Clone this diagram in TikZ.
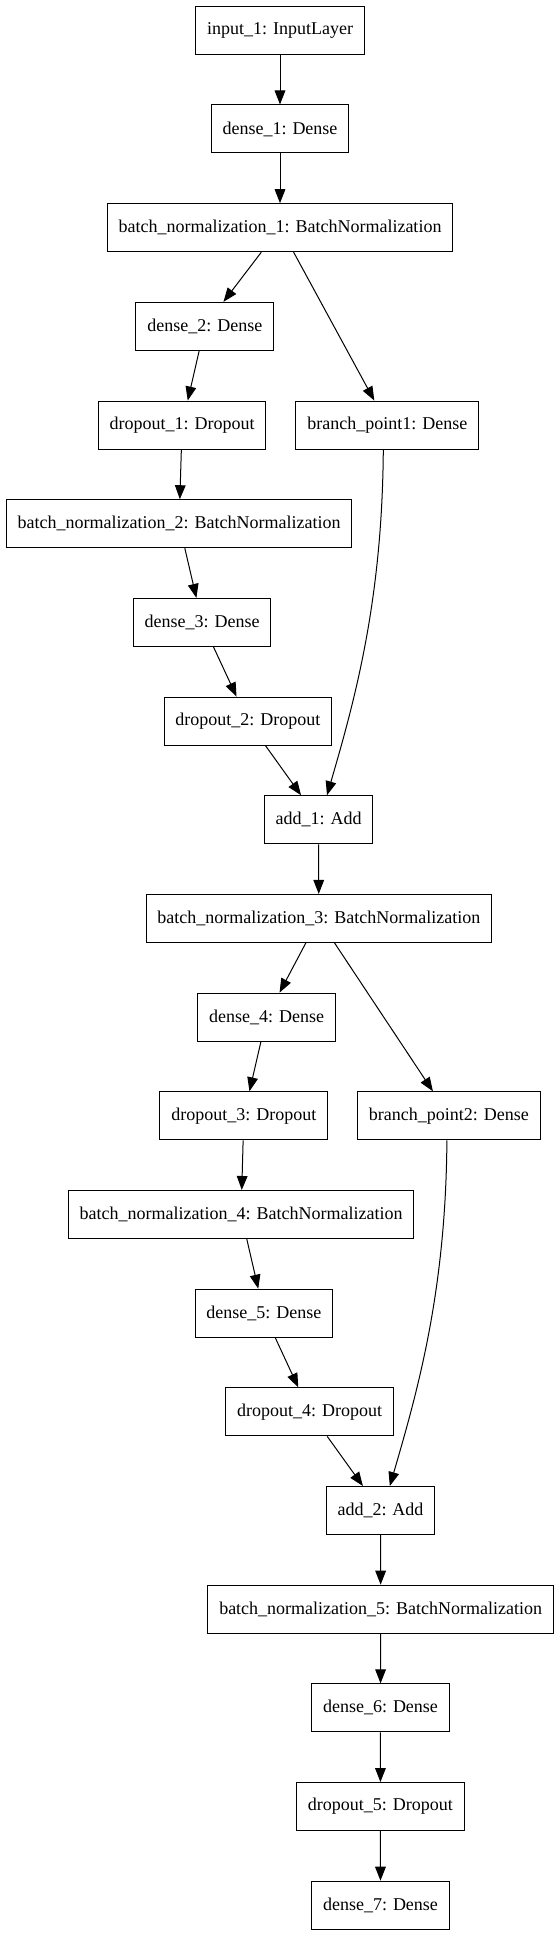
\documentclass[tikz,border=0pt]{standalone}
\usepackage{fontspec}
\setmainfont{Liberation Serif}
\usetikzlibrary{arrows.meta,calc}

\tikzset{
    layer/.style={rectangle, draw, line width=0.75pt, minimum height=36pt, inner xsep=8.5pt,
        font=\fontsize{13.5}{16}\selectfont},
    edge/.style={-{Triangle[length=10.5pt,width=8pt]}, line width=0.75pt}
}

\begin{document}
\begin{tikzpicture}[x=0.75pt, y=-0.75pt]
    \useasboundingbox (0,0) rectangle (557,1936);
    \foreach \name/\x/\r/\label in {in1/280/0/input\_1: InputLayer, d1/280/1/dense\_1: Dense,
        bn1/280/2/batch\_normalization\_1: BatchNormalization, d2/204.8/3/dense\_2: Dense,
        do1/182.1/4/dropout\_1: Dropout, bp1/387.3/4/branch\_point1: Dense,
        bn2/179.1/5/batch\_normalization\_2: BatchNormalization, d3/202.1/6/dense\_3: Dense,
        do2/247.9/7/dropout\_2: Dropout, add1/318.6/8/add\_1: Add,
        bn3/318.8/9/batch\_normalization\_3: BatchNormalization, d4/266.6/10/dense\_4: Dense,
        do3/243.8/11/dropout\_3: Dropout, bp2/448.9/11/branch\_point2: Dense,
        bn4/241.1/12/batch\_normalization\_4: BatchNormalization, d5/263.9/13/dense\_5: Dense,
        do4/309.6/14/dropout\_4: Dropout, add2/380.5/15/add\_2: Add,
        bn5/380.7/16/batch\_normalization\_5: BatchNormalization, d6/380.5/17/dense\_6: Dense,
        do5/380.4/18/dropout\_5: Dropout, d7/380.5/19/dense\_7: Dense}
        \node[layer] (\name) at (\x, 30.3+98.68*\r) {\label};

    \foreach \a/\b in {in1/d1, d1/bn1, bn1/d2, d2/do1, do1/bn2, bn2/d3, d3/do2, do2/add1,
        add1/bn3, bn3/d4, d4/do3, do3/bn4, bn4/d5, d5/do4, do4/add2, add2/bn5, bn5/d6,
        d6/do5, do5/d7}
        \draw[edge] (\a) -- (\b);

    \draw[edge] ([xshift=10.2pt]bn1.south) -- ([xshift=-9.75pt]bp1.north);
    \draw[edge] ([xshift=11.8pt]bn3.south) -- ([xshift=-12pt]bp2.north);
    \draw[edge] ([xshift=-3pt]bp1.south) .. controls +(-1,151) and +(28,-96) .. ([xshift=6.3pt]add1.north);
    \draw[edge] ([xshift=-1.5pt]bp2.south) .. controls +(-1,151) and +(28,-96) .. ([xshift=7pt]add2.north);
\end{tikzpicture}
\end{document}
